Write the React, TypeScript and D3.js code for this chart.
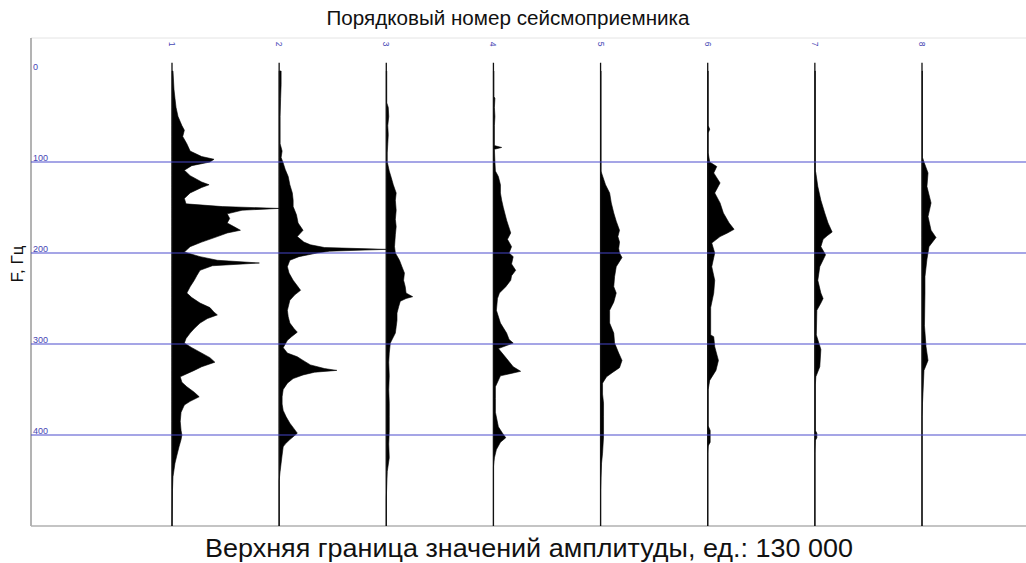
import React from "react";
import * as d3 from "d3";

// Frequency (Hz) / amplitude (thousand units) pairs read for each geophone
const geophone1: [number, number][] = [
  [0, 1.2], [20, 2.4], [30, 3.6], [40, 4.9], [50, 7.3], [60, 12], [65, 15], [72, 13], [80, 18], [88, 22],
  [94, 36], [97, 51], [100, 46], [104, 24], [109, 15], [115, 22], [122, 36], [125, 45], [128, 36], [134, 22],
  [140, 15], [146, 17], [149, 61], [151, 150], [153, 85], [157, 67], [162, 70], [167, 67], [171, 75], [175, 83],
  [178, 67], [182, 55], [188, 36], [193, 22], [199, 15], [204, 34], [208, 55], [211, 106], [214, 49], [219, 34],
  [225, 30], [230, 27], [237, 22], [244, 18], [249, 24], [255, 34], [260, 46], [265, 51], [268, 55], [272, 43],
  [277, 34], [283, 27], [288, 22], [294, 17], [299, 15], [304, 24], [309, 34], [315, 46], [320, 52], [325, 36],
  [329, 27], [336, 10], [342, 12], [347, 18], [353, 27], [358, 33], [363, 22], [367, 15], [375, 11], [385, 10],
  [395, 11], [400, 12], [405, 11], [413, 8.5], [422, 6], [431, 3.6], [446, 1.2], [460, 0.6], [500, 0],
];
const geophone2: [number, number][] = [
  [0, 2.4], [15, 2.4], [30, 1.8], [50, 1.2], [80, 1.2], [88, 3.6], [95, 2.4], [101, 4.9], [108, 7.3], [116, 11],
  [125, 13], [134, 16], [142, 17], [149, 17], [158, 21], [167, 23], [175, 29], [182, 22], [188, 30], [191, 38],
  [194, 55], [196, 150], [198, 61], [200, 46], [204, 24], [208, 13], [215, 10], [222, 12], [230, 17], [236, 22],
  [241, 26], [246, 19], [252, 13], [263, 10], [270, 11], [277, 13], [283, 18], [287, 22], [292, 15], [296, 10],
  [304, 4.9], [310, 10], [314, 22], [318, 29], [323, 38], [327, 55], [329, 70], [331, 43], [334, 29], [338, 17],
  [343, 10], [350, 4.9], [358, 3.6], [366, 3.6], [373, 4.9], [380, 8.5], [387, 13], [393, 18], [398, 22], [402, 17],
  [405, 13], [410, 7.3], [413, 4.9], [422, 3.6], [431, 2.4], [440, 1.2], [450, 0], [500, 0],
];
const geophone3: [number, number][] = [
  [0, 0.6], [35, 0.6], [40, 2.4], [50, 3], [60, 1.8], [70, 2.4], [80, 1.8], [90, 1.2], [100, 1.2], [110, 3.6],
  [117, 6], [125, 8.5], [134, 12], [142, 11], [153, 12], [163, 11], [171, 12], [180, 11], [193, 10], [200, 11],
  [208, 16], [215, 19], [222, 22], [230, 21], [237, 23], [244, 24], [248, 32], [250, 24], [253, 17], [259, 15],
  [266, 13], [274, 13], [281, 12], [288, 11], [299, 4.9], [310, 3.6], [320, 3], [335, 3.6], [350, 3], [365, 3.6],
  [380, 3.6], [395, 3.6], [410, 3], [425, 3.6], [440, 1.2], [455, 0.6], [470, 0], [500, 0],
];
const geophone4: [number, number][] = [
  [0, 0.6], [28, 0.6], [30, 1.8], [40, 1.2], [50, 1.8], [60, 1.2], [82, 1.2], [84, 10], [86, 1.2], [100, 1.8],
  [110, 2.4], [116, 6], [125, 8.5], [134, 8.5], [142, 10], [150, 12], [164, 16], [178, 21], [185, 17], [193, 22],
  [200, 19], [204, 24], [212, 22], [219, 27], [225, 22], [230, 21], [237, 15], [244, 7.3], [250, 4.9], [263, 3.6],
  [277, 8.5], [288, 16], [295, 19], [299, 24], [305, 6], [316, 16], [325, 24], [330, 33], [335, 8.5], [347, 2.4],
  [360, 2.4], [375, 2.4], [391, 6], [398, 11], [403, 15], [408, 8.5], [416, 3.6], [425, 1.2], [435, 0], [500, 0],
];
const geophone5: [number, number][] = [
  [0, 0.6], [110, 0.6], [112, 1.2], [125, 6], [134, 11], [145, 13], [156, 16], [165, 19], [175, 23], [182, 21],
  [188, 23], [195, 22], [200, 23], [205, 26], [215, 19], [226, 17], [237, 16], [244, 19], [254, 16], [263, 11],
  [277, 11], [288, 16], [299, 17], [310, 22], [318, 26], [326, 23], [331, 15], [336, 7.3], [343, 2.4], [355, 2.4],
  [365, 3.6], [380, 3.6], [402, 3.6], [420, 2.4], [431, 1.2], [445, 0.6], [460, 0], [500, 0],
];
const geophone6: [number, number][] = [
  [0, 0.6], [60, 0.6], [64, 2.4], [68, 0.6], [90, 0.6], [100, 2.4], [105, 11], [112, 7.3], [123, 15], [134, 8.5],
  [145, 15], [156, 19], [167, 26], [174, 32], [178, 24], [182, 15], [189, 4.9], [200, 8.5], [215, 4.9], [230, 8.5],
  [244, 7.3], [260, 3.6], [290, 3.6], [292, 7.3], [303, 8.5], [318, 13], [329, 10], [340, 2.4], [350, 0.6], [390, 0.6],
  [395, 3], [408, 3], [412, 0.6], [420, 0], [500, 0],
];
const geophone7: [number, number][] = [
  [0, 0.6], [110, 0.6], [112, 1.2], [127, 3.6], [142, 7.3], [156, 12], [167, 16], [177, 21], [181, 15], [185, 10],
  [193, 7.3], [202, 13], [215, 6], [230, 3.6], [244, 7.3], [250, 10], [255, 7.3], [263, 2.4], [290, 1.8], [306, 7.3],
  [325, 6], [336, 1.2], [345, 0.6], [395, 0.6], [398, 2.4], [403, 2.4], [406, 0.6], [420, 0], [500, 0],
];
const geophone8: [number, number][] = [
  [0, 0.6], [95, 0.6], [100, 2.4], [112, 7.3], [127, 6], [145, 11], [160, 7.3], [175, 11], [183, 17], [193, 8.5],
  [207, 6], [226, 3.6], [244, 3.6], [280, 3], [303, 4.9], [318, 7.3], [329, 2.4], [354, 1.2], [365, 0.6], [380, 0],
  [500, 0],
];

const geophoneNumbers = [1, 2, 3, 4, 5, 6, 7, 8];
const traces = [geophone1, geophone2, geophone3, geophone4, geophone5, geophone6, geophone7, geophone8];
const freqTicks = [0, 100, 200, 300, 400];
const gridFreqs = [100, 200, 300, 400];
const ampMax = 130; // thousand units
const titleTop = "Порядковый номер сейсмоприемника";
const titleBottom = "Верхняя граница значений амплитуды, ед.: 130 000";
const yTitle = "F, Гц";

const W = 1026;
const H = 563;
const left = 31;
const right = 1026;
const top = 38;
const bottom = 526;

export default function App() {
  const y = d3.scaleLinear().domain([0, 500]).range([71, bottom]);
  const x = d3.scaleLinear().domain([1, 8]).range([172, 922]);
  const step = x(2) - x(1);
  const amp = d3.scaleLinear().domain([0, ampMax]).range([0, step]).clamp(true);

  const blue = "#4646b4";

  return (
    <svg
      width={W}
      height={H}
      style={{ position: "absolute", left: 0, top: 0, background: "#fff" }}
      fontFamily="'Liberation Sans', Arial, sans-serif"
    >
      <rect x={0} y={0} width={W} height={H} fill="#fff" />
      {/* frame */}
      <line x1={left} x2={right} y1={top} y2={top} stroke="#e4e4e4" strokeWidth={1} />
      <line x1={left} x2={left} y1={top} y2={bottom} stroke="#9a9a9a" strokeWidth={1.5} />
      <line x1={left} x2={right} y1={bottom} y2={bottom} stroke="#b0b0b0" strokeWidth={1.5} />

      {/* traces */}
      {traces.map((data, i) => {
        const base = x(geophoneNumbers[i]);
        const area = d3
          .area<[number, number]>()
          .y((d) => y(d[0]))
          .x0(base)
          .x1((d) => base + amp(d[1]))
          .curve(d3.curveLinear);
        return (
          <g key={i}>
            <path d={area(data) || ""} fill="#000" stroke="#000" strokeWidth={0.6} />
            <line x1={base} x2={base} y1={y(-9)} y2={bottom} stroke="#111" strokeWidth={1.3} />
          </g>
        );
      })}

      {/* grid lines */}
      {gridFreqs.map((f) => (
        <line
          key={f}
          x1={left}
          x2={right}
          y1={y(f)}
          y2={y(f)}
          stroke="rgb(70,70,205)"
          strokeOpacity={0.65}
          strokeWidth={1.6}
        />
      ))}

      {/* frequency labels */}
      {freqTicks.map((f) => (
        <text key={f} x={left + 2} y={y(f) - 1.5} fontSize={9} fill={blue}>
          {f}
        </text>
      ))}

      {/* geophone labels (rotated) */}
      {geophoneNumbers.map((n) => (
        <text
          key={n}
          transform={`translate(${x(n)},${44}) rotate(90)`}
          fontSize={8.5}
          fill={blue}
          textAnchor="middle"
          dominantBaseline="central"
        >
          {n}
        </text>
      ))}

      {/* titles */}
      <text x={508} y={25} fontSize={19.5} textAnchor="middle" fill="#111" textLength={363} lengthAdjust="spacingAndGlyphs">
        {titleTop}
      </text>
      <text x={529} y={557} fontSize={25} textAnchor="middle" fill="#111" textLength={648} lengthAdjust="spacingAndGlyphs">
        {titleBottom}
      </text>
      <text
        transform={`translate(${23},${264}) rotate(-90)`}
        fontSize={17}
        textAnchor="middle"
        fill="#111"
      >
        {yTitle}
      </text>
    </svg>
  );
}
